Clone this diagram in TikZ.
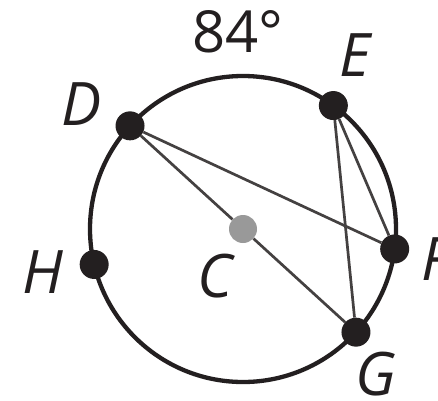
\documentclass[tikz,border=0pt]{standalone}
\usepackage{fontspec}
\setmainfont{Open Sans}
\definecolor{ink}{HTML}{231F20}
\begin{document}
\begin{tikzpicture}[
  x=1pt, y=1pt,
  font=\fontsize{60}{72}\selectfont\itshape,
  dot/.style={circle, fill=ink, inner sep=0pt, minimum size=29pt},
  centre/.style={circle, fill=gray!80, inner sep=0pt, minimum size=28pt},
  chord/.style={draw=ink!85, line width=2.7pt},
  rim/.style={draw=ink, line width=4.3pt},
  lbl/.style={text=ink, inner sep=0pt},
]
\useasboundingbox (-243,-171) rectangle (195,229);

% The circle, centre C at the origin.
\draw[rim] (0,0) circle (153);
\node[centre] (C) at (0,0) {};

% Points on the circle (D and G are the ends of a diameter).
\node[dot] (D) at (137.6:153) {};
\node[dot] (E) at (53.8:153) {};
\node[dot] (F) at (-7.5:153) {};
\node[dot] (G) at (-42.4:153) {};
\node[dot] (H) at (193.4:153) {};

% Chords.
\draw[chord] (D) -- (C) -- (G);
\draw[chord] (D) -- (F);
\draw[chord] (E) -- (F);
\draw[chord] (E) -- (G);

% Labels.
\node[lbl, font=\fontsize{58}{70}\selectfont\upshape] (arcDE) at (-5,197) {84°};
\node[lbl] (labD) at (-161,125) {D};
\node[lbl] (labE) at (112,174) {E};
\node[lbl] (labF) at (193,-30) {F};
\node[lbl] (labG) at (133,-145) {G};
\node[lbl] (labH) at (-200,-43) {H};
\node[lbl] (labC) at (-28,-47) {C};
\end{tikzpicture}
\end{document}
